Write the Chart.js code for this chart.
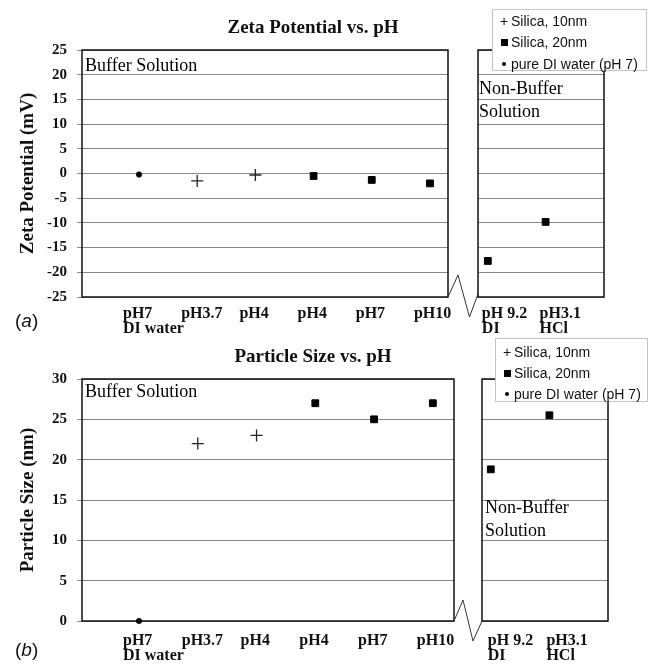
<!DOCTYPE html>
<html>
<head>
<meta charset="utf-8">
<script src="https://cdn.jsdelivr.net/npm/chart.js@4/dist/chart.umd.min.js"></script>
<style>
  html, body { margin: 0; padding: 0; background: #fff; }
  #fig { position: relative; width: 653px; height: 668px; overflow: hidden; }
  #fig canvas { position: absolute; left: 0; }
  .note { position: absolute; font-family: 'Liberation Serif', 'Times New Roman', serif; font-size: 18px; line-height: 23.4px; color: #000; white-space: nowrap; }
  .tag { position: absolute; font-family: 'Liberation Sans', Arial, sans-serif; font-size: 19px; color: #111; line-height: 22px; }
  .legend { position: absolute; background: #fff; border: 1px solid #c4c4c4; font-family: 'Liberation Sans', Arial, sans-serif; font-size: 14px; color: #111; box-sizing: border-box; }
  .legend .row { position: absolute; left: 0; height: 20px; line-height: 20px; white-space: nowrap; }
  .legend .mk { position: absolute; left: 5px; width: 12px; text-align: center; }
  .legend .txt { position: absolute; left: 18px; }
  .sq { display: inline-block; width: 7px; height: 7px; background: #000; vertical-align: middle; margin-top: -2px; }
  .dot { display: inline-block; width: 4px; height: 4px; border-radius: 50%; background: #000; vertical-align: middle; margin-top: -2px; }
</style>
</head>
<body>
<div id="fig">
  <canvas id="zetaMain" width="653" height="335" style="top:0px"></canvas>
  <canvas id="zetaSide" width="653" height="335" style="top:0px"></canvas>
  <canvas id="sizeMain" width="653" height="338" style="top:330px"></canvas>
  <canvas id="sizeSide" width="653" height="338" style="top:330px"></canvas>

  <div class="note" style="left:85px; top:54px;">Buffer Solution</div>
  <div class="note" style="left:479px; top:77px;">Non-Buffer<br>Solution</div>
  <div class="note" style="left:85px; top:380px;">Buffer Solution</div>
  <div class="note" style="left:485px; top:496px;">Non-Buffer<br>Solution</div>

  <div class="tag" style="left:15px; top:310px;">(<i>a</i>)</div>
  <div class="tag" style="left:15px; top:639px;">(<i>b</i>)</div>

  <div class="legend" style="left:492px; top:9px; width:155px; height:62px;">
    <div class="row" style="top:1px;"><span class="mk">+</span><span class="txt">Silica, 10nm</span></div>
    <div class="row" style="top:22px;"><span class="mk"><span class="sq"></span></span><span class="txt">Silica, 20nm</span></div>
    <div class="row" style="top:44px;"><span class="mk"><span class="dot"></span></span><span class="txt">pure DI water (pH 7)</span></div>
  </div>
  <div class="legend" style="left:495px; top:338px; width:153px; height:64px;">
    <div class="row" style="top:3px;"><span class="mk">+</span><span class="txt">Silica, 10nm</span></div>
    <div class="row" style="top:24px;"><span class="mk"><span class="sq"></span></span><span class="txt">Silica, 20nm</span></div>
    <div class="row" style="top:45px;"><span class="mk"><span class="dot"></span></span><span class="txt">pure DI water (pH 7)</span></div>
  </div>
</div>

<script>
// Sample conditions (category labels along the x axis)
const bufferLabels = [['pH7', 'DI water'], 'pH3.7', 'pH4', 'pH4', 'pH7', 'pH10'];
const nonBufferLabels = [['pH 9.2', 'DI'], ['pH3.1', 'HCl']];

// Category slot of each series within its box
const diWaterSlots = [1];
const silica10Slots = [2, 3];
const silica20Slots = [4, 5, 6];
const nonBufferSlots = [1, 2];

// Zeta potential (mV)
const zetaDiWater = [-0.2];
const zetaSilica10 = [-1.5, -0.3];
const zetaSilica20 = [-0.5, -1.3, -2.0];
const zetaSilica20NonBuffer = [-17.7, -9.8];

// Particle size (nm)
const sizeDiWater = [0];
const sizeSilica10 = [22, 23];
const sizeSilica20 = [27, 25, 27];
const sizeSilica20NonBuffer = [18.8, 25.5];

// Value axis ranges
const zetaAxis = { min: -25, max: 25, step: 5 };
const sizeAxis = { min: 0, max: 30, step: 5 };

const SERIF = "'Liberation Serif', 'Times New Roman', serif";
const INK = '#111';
const GRID = '#8a8a8a';

const pairs = (slots, values) => slots.map((s, i) => ({ x: s, y: values[i] }));

const silica10Style = { label: 'Silica, 10nm', pointStyle: 'cross', pointRadius: 6, borderColor: '#222', borderWidth: 1.3, backgroundColor: '#222', clip: false };
const silica20Style = { label: 'Silica, 20nm', pointStyle: 'rect', pointRadius: 4.8, borderColor: '#000', borderWidth: 1, backgroundColor: '#000', clip: false };
const diStyle = { label: 'pure DI water (pH 7)', pointStyle: 'circle', pointRadius: 2.8, borderColor: '#000', borderWidth: 0.5, backgroundColor: '#000', clip: false };

// Box outline around each plot area
const frame = {
  id: 'frame',
  beforeDatasetsDraw(chart) {
    const { ctx, chartArea: a } = chart;
    ctx.save();
    ctx.strokeStyle = INK;
    ctx.lineWidth = 1.5;
    ctx.strokeRect(a.left, a.top, a.width, a.height);
    ctx.restore();
  }
};

// Zig-zag axis break between the buffer and non-buffer boxes
const axisBreak = {
  id: 'axisBreak',
  afterDraw(chart, args, opts) {
    if (!opts || !opts.points) return;
    const { ctx, chartArea: { right, bottom } } = chart;
    ctx.save();
    ctx.strokeStyle = '#333';
    ctx.lineWidth = 1;
    ctx.beginPath();
    ctx.moveTo(right, bottom);
    opts.points.forEach(([dx, dy]) => ctx.lineTo(right + dx, bottom + dy));
    ctx.stroke();
    ctx.restore();
  }
};

function categoryAxis(labels, min, max, cfg) {
  return {
    type: 'linear',
    min: min,
    max: max,
    afterBuildTicks: (s) => { s.ticks = labels.map((_, i) => ({ value: i + 1 })); },
    grid: { display: false, drawTicks: false },
    border: { display: false },
    ticks: {
      callback: (v) => labels[v - 1],
      align: 'start',
      labelOffset: cfg.labelOffset,
      padding: cfg.labelPad,
      autoSkip: false,
      minRotation: 0,
      maxRotation: 0,
      color: INK,
      font: { family: SERIF, size: 16, weight: 'bold', lineHeight: 0.9 }
    },
    afterFit: (s) => { s.height = cfg.axisHeight; }
  };
}

function mainChart(id, cfg) {
  return new Chart(document.getElementById(id), {
    type: 'scatter',
    data: { datasets: cfg.datasets },
    options: {
      responsive: false,
      animation: false,
      events: [],
      layout: { padding: { left: 0, top: 0, bottom: 0, right: 27 } },
      plugins: {
        legend: { display: false },
        tooltip: { enabled: false },
        title: {
          display: true, text: cfg.title, color: INK,
          font: { family: SERIF, size: 19, weight: 'bold', lineHeight: 1.2 },
          padding: { top: cfg.titleTop, bottom: cfg.titleBottom }
        },
        axisBreak: { points: cfg.breakPoints }
      },
      scales: {
        x: categoryAxis(bufferLabels, cfg.xMin, cfg.xMax, cfg),
        y: {
          min: cfg.axis.min, max: cfg.axis.max,
          ticks: { stepSize: cfg.axis.step, padding: 10, color: INK, font: { family: SERIF, size: 15, weight: 'bold' } },
          grid: { color: GRID, lineWidth: 1, tickLength: 5, drawTicks: true },
          border: { display: false },
          title: {
            display: true, text: cfg.yTitle, color: INK,
            font: { family: SERIF, size: 19, weight: 'bold', lineHeight: 1.2 },
            padding: { top: 17, bottom: 0 }
          },
          afterFit: (s) => { s.width = 82; }
        },
        spare: {
          type: 'linear', position: 'right', display: true,
          grid: { display: false, drawTicks: false }, border: { display: false },
          ticks: { display: false },
          afterFit: (s) => { s.width = cfg.spareWidth; }
        }
      }
    },
    plugins: [frame, axisBreak]
  });
}

function sideChart(id, cfg) {
  return new Chart(document.getElementById(id), {
    type: 'scatter',
    data: { datasets: cfg.datasets },
    options: {
      responsive: false,
      animation: false,
      events: [],
      layout: { padding: { left: cfg.left, right: 653 - cfg.right, top: cfg.top, bottom: 0 } },
      plugins: { legend: { display: false }, tooltip: { enabled: false }, title: { display: false } },
      scales: {
        x: categoryAxis(nonBufferLabels, cfg.xMin, cfg.xMax, cfg),
        y: {
          min: cfg.axis.min, max: cfg.axis.max,
          ticks: { display: false, stepSize: cfg.axis.step },
          grid: { color: GRID, lineWidth: 1, drawTicks: false },
          border: { display: false },
          afterFit: (s) => { s.width = 0; }
        }
      }
    },
    plugins: [frame]
  });
}

// (a) Zeta potential
mainChart('zetaMain', {
  title: 'Zeta Potential vs. pH',
  yTitle: 'Zeta Potential (mV)',
  axis: zetaAxis,
  titleTop: 16.6, titleBottom: 10.6,
  axisHeight: 38, labelPad: 10, labelOffset: -16,
  xMin: 0.02, xMax: 6.31,
  spareWidth: 178,
  breakPoints: [[10, -22], [21.5, 20], [30, -3]],
  datasets: [
    Object.assign({ data: pairs(silica10Slots, zetaSilica10) }, silica10Style),
    Object.assign({ data: pairs(silica20Slots, zetaSilica20) }, silica20Style),
    Object.assign({ data: pairs(diWaterSlots, zetaDiWater) }, diStyle)
  ]
});
sideChart('zetaSide', {
  axis: zetaAxis,
  left: 478, right: 604, top: 50,
  axisHeight: 38, labelPad: 10, labelOffset: -6,
  xMin: 0.83, xMax: 3.01,
  datasets: [Object.assign({ data: pairs(nonBufferSlots, zetaSilica20NonBuffer) }, silica20Style)]
});

// (b) Particle size
mainChart('sizeMain', {
  title: 'Particle Size vs. pH',
  yTitle: 'Particle Size (nm)',
  axis: sizeAxis,
  titleTop: 15.6, titleBottom: 10.6,
  axisHeight: 47, labelPad: 13, labelOffset: -16,
  xMin: 0.03, xMax: 6.36,
  spareWidth: 172,
  breakPoints: [[9, -21], [19, 20], [28, 0]],
  datasets: [
    Object.assign({ data: pairs(silica10Slots, sizeSilica10) }, silica10Style),
    Object.assign({ data: pairs(silica20Slots, sizeSilica20) }, silica20Style),
    Object.assign({ data: pairs(diWaterSlots, sizeDiWater) }, diStyle)
  ]
});
sideChart('sizeSide', {
  axis: sizeAxis,
  left: 482, right: 608, top: 49,
  axisHeight: 47, labelPad: 13, labelOffset: -3,
  xMin: 0.85, xMax: 3.0,
  datasets: [Object.assign({ data: pairs(nonBufferSlots, sizeSilica20NonBuffer) }, silica20Style)]
});
</script>
</body>
</html>
